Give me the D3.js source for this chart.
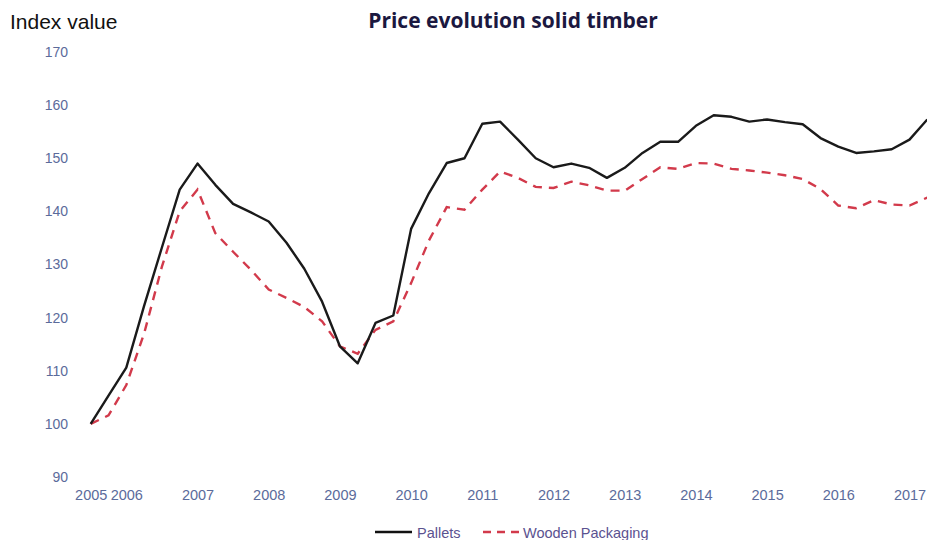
<!DOCTYPE html>
<html>
<head>
<meta charset="utf-8">
<script src="https://cdn.jsdelivr.net/npm/d3@7"></script>
<style>
  html, body { margin: 0; padding: 0; background: #ffffff; }
  svg { display: block; }
</style>
</head>
<body>
<div id="chart"></div>
<script>
// ---- Data (quarterly index values) ----
const pallets = [
  100, 105.3, 110.6, 122.2, 133.2, 144.1, 149.0, 145.0, 141.4, 139.8,
  138.1, 134.1, 129.2, 123.0, 114.6, 111.4, 119.0, 120.4, 136.7, 143.4,
  149.1, 150.0, 156.5, 156.9, 153.5, 150.0, 148.3, 149.0, 148.2, 146.3,
  148.2, 151.0, 153.1, 153.1, 156.1, 158.1, 157.8, 156.9, 157.3, 156.8,
  156.4, 153.8, 152.2, 151.0, 151.3, 151.7, 153.5, 157.3
];
const wooden = [
  100, 101.6, 107.3, 117.0, 129.6, 140.0, 144.1, 135.9, 132.4, 129.0,
  125.3, 123.7, 122.0, 119.3, 114.6, 113.2, 117.7, 119.3, 126.5, 134.5,
  140.8, 140.3, 144.1, 147.5, 146.3, 144.6, 144.4, 145.6, 144.9, 143.9,
  143.9, 146.1, 148.3, 148.0, 149.1, 149.0, 148.0, 147.7, 147.3, 146.8,
  146.1, 144.2, 141.1, 140.6, 142.1, 141.3, 141.1, 142.6
];
const xTickIndex = [0, 2, 6, 10, 14, 18, 22, 26, 30, 34, 38, 42, 46];
const xTickLabels = ["2005", "2006", "2007", "2008", "2009", "2010", "2011",
                     "2012", "2013", "2014", "2015", "2016", "2017"];
const yTicks = [90, 100, 110, 120, 130, 140, 150, 160, 170];
const seriesNames = ["Pallets", "Wooden Packaging"];

// ---- Layout ----
const W = 927, H = 540;
const svg = d3.select("#chart").append("svg")
  .attr("width", W).attr("height", H);

const x = d3.scaleLinear().domain([0, pallets.length - 1]).range([90.7, 927.3]);
const y = d3.scaleLinear().domain([90, 170]).range([477, 52]);

const tickColor = "#5b6b9b";
const fontFam = "'Liberation Sans', Arial, sans-serif";

// Title
svg.append("text")
  .attr("x", 513).attr("y", 28)
  .attr("text-anchor", "middle")
  .attr("font-family", "'Open Sans', 'Liberation Sans', sans-serif")
  .attr("font-weight", 700)
  .attr("font-size", 21)
  .attr("fill", "#1b1840")
  .text("Price evolution solid timber");

// Y axis label
svg.append("text")
  .attr("x", 10).attr("y", 29)
  .attr("font-family", fontFam)
  .attr("font-size", 21)
  .attr("fill", "#111111")
  .text("Index value");

// Y axis (labels only)
const yAxis = d3.axisLeft(y).tickValues(yTicks).tickSize(0).tickPadding(0);
const gy = svg.append("g").attr("transform", "translate(68,0)").call(yAxis);
gy.select(".domain").remove();
gy.selectAll("text")
  .attr("font-family", fontFam)
  .attr("font-size", 14)
  .attr("fill", tickColor);

// X axis (labels only)
const xAxis = d3.axisBottom(x).tickValues(xTickIndex)
  .tickFormat((d, i) => xTickLabels[i]).tickSize(0).tickPadding(0);
const gx = svg.append("g").attr("transform", "translate(0,490)").call(xAxis);
gx.select(".domain").remove();
gx.selectAll("text")
  .attr("font-family", fontFam)
  .attr("font-size", 14.5)
  .attr("fill", tickColor);

// Lines
const line = d3.line().x((d, i) => x(i)).y(d => y(d));

svg.append("path")
  .datum(wooden)
  .attr("fill", "none")
  .attr("stroke", "#d23a4b")
  .attr("stroke-width", 2.4)
  .attr("stroke-dasharray", "9,7")
  .attr("d", line);

svg.append("path")
  .datum(pallets)
  .attr("fill", "none")
  .attr("stroke", "#1a1a1a")
  .attr("stroke-width", 2.4)
  .attr("stroke-linejoin", "round")
  .attr("d", line);

// Legend
const lg = svg.append("g");
lg.append("line")
  .attr("x1", 375).attr("x2", 412).attr("y1", 532).attr("y2", 532)
  .attr("stroke", "#111111").attr("stroke-width", 2.6);
lg.append("text")
  .attr("x", 417).attr("y", 538)
  .attr("font-family", fontFam).attr("font-size", 14.5)
  .attr("fill", "#5b5290")
  .text(seriesNames[0]);
lg.append("line")
  .attr("x1", 483).attr("x2", 519).attr("y1", 532).attr("y2", 532)
  .attr("stroke", "#d23a4b").attr("stroke-width", 2.6)
  .attr("stroke-dasharray", "8,6");
lg.append("text")
  .attr("x", 523).attr("y", 538)
  .attr("font-family", fontFam).attr("font-size", 14.5)
  .attr("fill", "#5b5290")
  .text(seriesNames[1]);
</script>
</body>
</html>
